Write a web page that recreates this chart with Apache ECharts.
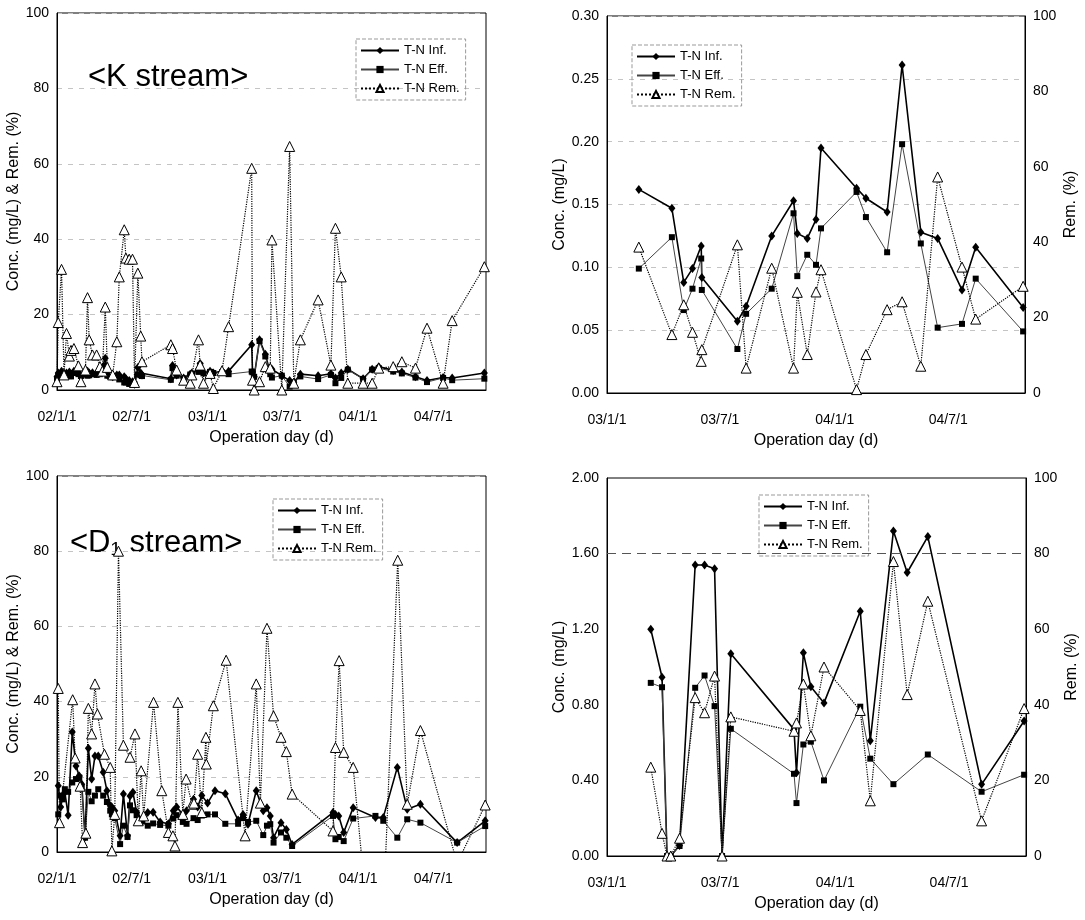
<!DOCTYPE html>
<html>
<head>
<meta charset="utf-8">
<title>T-N</title>
<script src="https://cdn.jsdelivr.net/npm/echarts@6/dist/echarts.min.js"></script>
<style>
  html, body { margin: 0; padding: 0; background: #fff; }
  #chart { width: 1085px; height: 920px; }
</style>
</head>
<body>
<div id="chart"></div>
<script>
// x axis = days since 02/1/1
var xTickDays = [0, 181, 365, 546, 730, 912];
var xTickLabels = ['02/1/1', '02/7/1', '03/1/1', '03/7/1', '04/1/1', '04/7/1'];
var legendNames = ['T-N Inf.', 'T-N Eff.', 'T-N Rem.'];

// <K stream>, 02-04
var k1Days = [0, 3, 11, 17, 23, 30, 34, 41, 52, 58, 69, 74, 78, 86, 96, 104, 110, 117, 122, 135,
  145, 151, 163, 167, 175, 183, 188, 196, 203, 206, 276, 280, 290, 307, 323, 327, 343, 347, 355, 371,
  379, 400, 416, 472, 474, 478, 491, 505, 517, 521, 545, 564, 574, 590, 633, 664, 675, 689, 705, 742,
  764, 780, 815, 836, 869, 897, 936, 958, 1036];
var k1Inf = [3.5, 4.5, 5.0, 4.4, 4.5, 4.8, 4.0, 5.0, 4.5, 3.8, 4.3, 5.0, 4.5, 4.6, 4.4, 4.5, 6.0, 8.4, 4.0, 3.5,
  4.0, 4.0, 3.5, 3.0, 2.5, 2.2, 1.5, 6.0, 4.5, 4.0, 3.0, 6.5, 4.0, 3.2, 4.2, 4.5, 5.5, 7.0, 4.5, 5.0,
  4.5, 5.0, 5.0, 12.0, 4.8, 3.5, 13.3, 9.5, 4.5, 5.5, 3.8, 2.5, 2.0, 4.2, 3.8, 4.3, 3.2, 4.5, 5.5, 3.0,
  5.5, 6.2, 5.2, 4.8, 3.5, 2.5, 3.3, 3.2, 4.5];
var k1Eff = [3.0, 3.8, 3.5, 4.2, 3.8, 4.3, 3.6, 4.5, 4.2, 3.7, 4.1, 3.8, 3.9, 4.2, 4.0, 4.2, 5.7, 6.5, 3.8, 3.4,
  3.5, 2.8, 2.0, 2.0, 1.6, 1.4, 1.5, 4.1, 3.9, 3.7, 2.7, 5.8, 3.8, 3.1, 4.1, 4.3, 4.8, 6.5, 4.4, 4.8,
  4.5, 4.7, 4.2, 4.9, 4.7, 3.5, 13.0, 8.9, 4.2, 3.3, 3.8, 0.9, 2.0, 3.6, 2.9, 4.0, 1.8, 3.2, 5.4, 2.95,
  5.4, 5.8, 4.9, 4.4, 3.3, 2.1, 3.2, 2.6, 3.0];
var k1Rem = [2.2, 17.9, 32, 4.0, 15, 9, 10.5, 11, 6.4, 2.2, 5.3, 24.5, 13.3, 9.3, 9.3, 6.2, 5.0, 22, 6, 4,
  12.8, 30, 42.5, 35, 34.7, 34.7, 2, 31, 14.3, 7.5, 12, 11, 5.3, 2.6, 1.8, 4, 13.3, 6.6, 1.8, 4.4,
  0.4, 5.1, 16.8, 58.8, 2.6, 0, 2.2, 6.2, 5.8, 39.8, 0, 64.6, 1.8, 13.3, 23.9, 6.6, 42.9, 30, 1.8, 1.8,
  1.8, 5.8, 6.2, 7.5, 5.8, 16.4, 1.8, 18.4, 32.7];

// top right, 03-04
var k2Days = [416, 469, 488, 502, 516, 517, 574, 588, 629, 664, 670, 686, 700, 708, 765, 780, 814, 838, 868, 895, 934, 956, 1032];
var k2Inf = [0.162, 0.147, 0.088, 0.099, 0.117, 0.092, 0.057, 0.069, 0.125, 0.153, 0.127, 0.123, 0.138, 0.195, 0.163, 0.155, 0.144, 0.261, 0.128, 0.123, 0.082, 0.116, 0.068];
var k2Eff = [0.099, 0.124, 0.066, 0.083, 0.107, 0.082, 0.035, 0.063, 0.083, 0.143, 0.093, 0.110, 0.102, 0.131, 0.160, 0.140, 0.112, 0.198, 0.119, 0.052, 0.055, 0.091, 0.049];
var k2Rem = [38.7, 15.5, 23.4, 16.1, 8.4, 11.5, 39.3, 6.6, 33.1, 6.6, 26.7, 10.2, 26.8, 32.7, 0.9, 10.2, 22.1, 24.2, 7.1, 57.3, 33.4, 19.6, 28.3];

// <D1 stream>, 02-04
var d1Days = [3, 9, 14, 19, 27, 37, 46, 54, 60, 68, 76, 84, 92, 100, 112, 121, 129, 133, 140, 153,
  161, 171, 177, 184, 193, 207, 220, 233, 250, 270, 282, 290, 305, 314, 331, 341, 351, 365, 383, 408,
  439, 451, 463, 483, 500, 509, 517, 525, 543, 556, 570, 669, 675, 683, 695, 718, 772, 791, 825, 849,
  881, 970, 1038];
var d1Inf = [17.6, 12, 15, 15.9, 9.8, 31.9, 22.9, 20.2, 18, 4, 27.6, 19.4, 25.5, 25.5, 21.2, 16.3, 12.3, 12, 11, 4.3,
  15.4, 4.3, 14.9, 15.9, 10.6, 8.5, 10.5, 10.6, 8, 7.5, 11, 12, 10, 11, 14, 12, 15, 13, 16.3, 15.5,
  8.5, 10, 7.4, 16.3, 11, 11.8, 9.6, 3.8, 7.8, 6, 2, 10.5, 10, 9.6, 5.2, 11.8, 9.2, 9.2, 22.5, 11.4,
  12.7, 2.5, 8.3];
var d1Eff = [10, 15, 14, 16.7, 16, 18.5, 19.4, 19.8, 17, 3.8, 16, 13.5, 15, 16.7, 15, 13.3, 11, 10, 9, 2.1,
  7, 4.0, 12.4, 11.1, 9.8, 8.1, 7, 7.6, 7.2, 7, 8.9, 9.8, 8, 7.5, 9, 8.5, 9.7, 10, 10, 7.5,
  7.5, 9, 8, 8.3, 4.5, 7, 7.4, 2.5, 5.2, 3.8, 1.6, 9.6, 3.4, 4, 2.9, 8.9, 9.6, 8.3, 3.8, 8.7,
  7.8, 2.5, 6.9];
var d1RemDays = [3, 6, 38, 44, 56, 62, 70, 76, 84, 92, 98, 115, 129, 133, 140, 149, 161, 177, 189, 197,
  204, 210, 234, 254, 270, 281, 286, 293, 305, 313, 327, 332, 341, 351, 361, 362, 379, 410, 456, 483,
  493, 509, 525, 543, 556, 570, 669, 675, 684, 695, 718, 740, 796, 826, 849, 881, 970, 1038];
var d1Rem = [43.5, 7.8, 40.5, 25, 17.5, 2.5, 5, 38.2, 31.4, 44.7, 36.7, 26, 22.5, 0.3, 10, 80, 28.4, 25.2, 31.4, 8.3,
  21.6, 9.6, 39.8, 16.3, 5.2, 4.3, 1.6, 39.8, 10, 19.4, 12.7, 13, 26, 10.5, 30.5, 23.4, 38.9, 51, 4.3, 44.7,
  13, 59.5, 36.2, 30.5, 26.7, 15.4, 5.6, 27.8, 50.9, 26.5, 22.5, -3, -3, 77.6, 12.7, 32.3, -3, 12.5];

// bottom right, 03-04
var d2Days = [435, 453, 461, 467, 481, 506, 521, 537, 549, 563, 664, 668, 679, 691, 712, 770, 786, 823, 845, 878, 964, 1032];
var d2Inf = [1.20, 0.946, 0.0, 0.0, 0.055, 1.54, 1.54, 1.52, 0.0, 1.07, 0.67, 0.44, 1.075, 0.895, 0.81, 1.295, 0.61, 1.72, 1.50, 1.69, 0.379, 0.714];
var d2Eff = [0.916, 0.893, 0.0, 0.0, 0.053, 0.89, 0.955, 0.793, 0.0, 0.673, 0.435, 0.28, 0.59, 0.605, 0.40, 0.79, 0.515, 0.38, null, 0.537, 0.34, 0.43];
var d2Rem = [23.5, 6, 0, 0, 4.7, 41.9, 37.9, 47.6, 0, 36.8, 33, 35.2, 45.5, 31.8, 50, 38.5, 14.6, 77.9, 42.7, 67.4, 9.3, 39];

var FONT = 'Liberation Sans, Arial, sans-serif';

function toPairs(days, vals) {
    return days.map(function (d, i) { return [d, vals[i]]; });
}

function makeSeries(xi, yConc, yRem, concDays, inf, eff, remDays, rem) {
    return [
        {
            name: 'T-N Inf.', type: 'line', xAxisIndex: xi, yAxisIndex: yConc,
            data: toPairs(concDays, inf),
            symbol: 'diamond', symbolSize: [7, 9], showAllSymbol: true, connectNulls: true,
            itemStyle: { color: '#000' },
            lineStyle: { color: '#000', width: 1.6 },
            z: 3
        },
        {
            name: 'T-N Eff.', type: 'line', xAxisIndex: xi, yAxisIndex: yConc,
            data: toPairs(concDays, eff),
            symbol: 'rect', symbolSize: 6, showAllSymbol: true, connectNulls: true,
            itemStyle: { color: '#000' },
            lineStyle: { color: '#444', width: 1 },
            z: 3
        },
        {
            name: 'T-N Rem.', type: 'line', xAxisIndex: xi, yAxisIndex: yRem,
            data: toPairs(remDays, rem),
            symbol: 'triangle', symbolSize: [10, 10], showAllSymbol: true,
            itemStyle: { color: '#fff', borderColor: '#000', borderWidth: 1 },
            lineStyle: { color: '#000', width: 1.2, type: 'dotted' },
            z: 4
        }
    ];
}

function xAxisFor(gi, min, max) {
    var vals = xTickDays.filter(function (d) { return d >= min && d <= max; });
    return {
        type: 'value', gridIndex: gi, min: min, max: max,
        name: 'Operation day (d)', nameLocation: 'middle', nameGap: 40,
        nameTextStyle: { fontFamily: FONT, fontSize: 16, color: '#000' },
        axisLine: { show: true, onZero: false, lineStyle: { color: '#000' } },
        axisTick: { show: false },
        splitLine: { show: false },
        axisLabel: {
            customValues: vals, margin: 20,
            fontFamily: FONT, fontSize: 14, color: '#000',
            formatter: function (v) {
                var i = xTickDays.indexOf(v);
                return i >= 0 ? xTickLabels[i] : '';
            }
        }
    };
}

function yAxisFor(gi, max, interval, name, pos, digits, grid) {
    return {
        type: 'value', gridIndex: gi, min: 0, max: max, interval: interval, position: pos,
        name: name, nameLocation: 'middle', nameRotate: 90, nameGap: pos === 'right' ? 38 : (digits ? 36 : 26),
        nameTextStyle: { fontFamily: FONT, fontSize: 16, color: '#000' },
        axisLine: { show: true, lineStyle: { color: '#000' } },
        axisTick: { show: false },
        splitLine: { show: grid, lineStyle: { color: '#c4c4c4', type: [5, 6] } },
        axisLabel: {
            margin: 8, fontFamily: FONT, fontSize: 14, color: '#000',
            formatter: function (v) { return digits ? v.toFixed(digits) : String(v); }
        }
    };
}

function legendAt(left, top) {
    return {
        left: left, top: top, orient: 'vertical',
        data: legendNames,
        itemWidth: 38, itemHeight: 9, itemGap: 6,
        padding: [5, 6, 5, 4],
        borderColor: '#999', borderWidth: 1, borderType: 'dashed',
        textStyle: { fontFamily: FONT, fontSize: 13, color: '#000' },
        selectedMode: false
    };
}

var myChart = echarts.init(document.getElementById('chart'));

var gridBase = { show: true, borderColor: '#000', borderWidth: 1, outerBoundsMode: 'none', containLabel: false };

var series = []
    .concat(makeSeries(0, 0, 0, k1Days, k1Inf, k1Eff, k1Days, k1Rem))
    .concat(makeSeries(1, 1, 2, k2Days, k2Inf, k2Eff, k2Days, k2Rem))
    .concat(makeSeries(2, 3, 3, d1Days, d1Inf, d1Eff, d1RemDays, d1Rem))
    .concat(makeSeries(3, 4, 5, d2Days, d2Inf, d2Eff, d2Days, d2Rem));

// dashed reference line at 1.60 in the bottom right panel
series[9].markLine = {
    silent: true, symbol: 'none', label: { show: false },
    lineStyle: { color: '#555', type: [9, 6], width: 1 },
    data: [{ yAxis: 1.6 }]
};

var option = {
    animation: false,
    backgroundColor: '#fff',
    textStyle: { fontFamily: FONT },
    grid: [
        Object.assign({ left: 57, top: 13, width: 429, height: 377 }, gridBase),
        Object.assign({ left: 607, top: 16, width: 418, height: 377 }, gridBase),
        Object.assign({ left: 57, top: 476, width: 429, height: 376 }, gridBase),
        Object.assign({ left: 607, top: 478, width: 419, height: 378 }, gridBase)
    ],
    xAxis: [
        xAxisFor(0, 0, 1040),
        xAxisFor(1, 365, 1035),
        xAxisFor(2, 0, 1040),
        xAxisFor(3, 365, 1035)
    ],
    yAxis: [
        yAxisFor(0, 100, 20, 'Conc. (mg/L) & Rem. (%)', 'left', 0, true),
        yAxisFor(1, 0.3, 0.05, 'Conc. (mg/L)', 'left', 2, true),
        yAxisFor(1, 100, 20, 'Rem. (%)', 'right', 0, false),
        yAxisFor(2, 100, 20, 'Conc. (mg/L) & Rem. (%)', 'left', 0, true),
        yAxisFor(3, 2, 0.4, 'Conc. (mg/L)', 'left', 2, false),
        yAxisFor(3, 100, 20, 'Rem. (%)', 'right', 0, false)
    ],
    legend: [
        legendAt(356, 39),
        legendAt(632, 45),
        legendAt(273, 499),
        legendAt(759, 495)
    ],
    graphic: [
        { type: 'text', left: 88, top: 62, style: { text: '<K stream>', font: '31px Liberation Sans', fill: '#000' } },
        { type: 'text', left: 70, top: 528, style: { text: '<D\u2081 stream>', font: '31px Liberation Sans', fill: '#000' } }
    ],
    series: series
};

myChart.setOption(option);
</script>
</body>
</html>
